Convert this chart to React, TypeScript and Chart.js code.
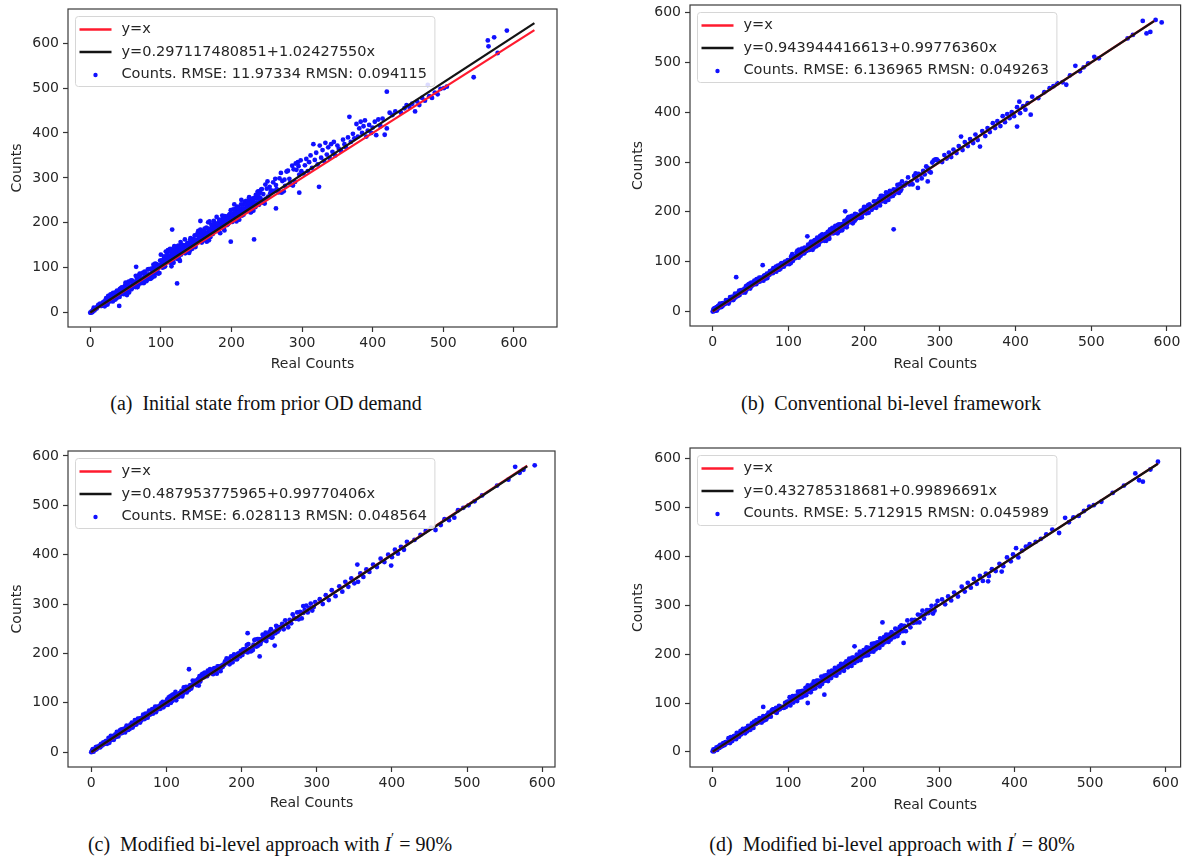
import React, { useEffect, useRef } from 'react';
import { Chart, registerables } from 'chart.js';

Chart.register(...registerables);

// ---------------- DATA ----------------
const TICKS = [0, 100, 200, 300, 400, 500, 600];

const LEGEND_A = ['y=x', 'y=0.297117480851+1.02427550x', 'Counts. RMSE: 11.97334 RMSN: 0.094115'];
const LEGEND_B = ['y=x', 'y=0.943944416613+0.99776360x', 'Counts. RMSE: 6.136965 RMSN: 0.049263'];
const LEGEND_C = ['y=x', 'y=0.487953775965+0.99770406x', 'Counts. RMSE: 6.028113 RMSN: 0.048564'];
const LEGEND_D = ['y=x', 'y=0.432785318681+0.99896691x', 'Counts. RMSE: 5.712915 RMSN: 0.045989'];

const FIT_A = [0.297117480851, 1.0242755];
const FIT_B = [0.943944416613, 0.9977636];
const FIT_C = [0.487953775965, 0.99770406];
const FIT_D = [0.432785318681, 0.99896691];

const LINE_END = [629, 583, 580, 590];

const CAPTIONS = [
  '(a)  Initial state from prior OD demand',
  '(b)  Conventional bi-level framework',
  '(c)  Modified bi-level approach with ',
  '(d)  Modified bi-level approach with ',
];
const CAPTION_PCT = ['', '', '90%', '80%'];

const POINTS_A = [
  [0,0],[1,0],[2,3],[3,1],[4,6],[5,11],[6,5],[7,10],[8,10],[9,9],[10,12],[11,16],[12,18],[13,17],[14,20],[15,15],[16,15],[17,17],[18,23],[19,20],
  [20,25],[21,18],[22,27],[23,24],[24,23],[25,24],[26,35],[27,26],[28,25],[29,36],[30,41],[31,34],[32,25],[33,30],[34,43],[35,44],[36,37],[37,32],[38,49],[39,46],
  [40,35],[41,46],[42,53],[43,42],[44,55],[45,56],[46,45],[47,54],[48,51],[49,44],
  [20.5,14],[21.5,25],[22.5,32],[23.5,21],[24.5,18],[25.5,37],[26.5,34],[27.5,29],[28.5,40],[29.5,31],[30.5,32],[31.5,35],[32.5,44],[33.5,31],[34.5,34],[35.5,29],
  [36.5,44],[37.5,47],[38.5,34],[39.5,45],[40.5,42],[41.5,35],[42.5,48],[43.5,41],[44.5,54],[45.5,51],[46.5,44],[47.5,41],[48.5,58],[49.5,61],
  [50,67],[51,65],[52,60],[53,49],[54,68],[55,45],[56,55],[57,59],[58,72],[59,55],[60,65],[61,60],[62,64],[63,59],[64,57],[65,58],[66,77],[67,57],[68,76],[69,80],
  [70,87],[71,85],[72,68],[73,66],[74,76],[75,89],[76,66],[77,91],[78,86],[79,84],[80,73],[81,80],[82,78],[83,97],[84,80],[85,84],[86,76],[87,95],[88,96],[89,91],
  [90,101],[91,81],[92,109],[93,92],[94,108],[95,97],[96,98],[97,105],[98,88],[99,116],
  [50.5,56],[51.5,57],[52.5,43],[53.5,59],[54.5,69],[55.5,52],[56.5,53],[57.5,57],[58.5,52],[59.5,71],[60.5,57],[61.5,67],[62.5,62],[63.5,69],[64.5,82],[65.5,68],
  [66.5,57],[67.5,82],[68.5,62],[69.5,66],[70.5,85],[71.5,74],[72.5,87],[73.5,67],[74.5,68],[75.5,69],[76.5,88],[77.5,80],[78.5,84],[79.5,70],[80.5,77],[81.5,96],
  [82.5,85],[83.5,77],[84.5,75],[85.5,82],[86.5,98],[87.5,78],[88.5,82],[89.5,107],[90.5,90],[91.5,106],[92.5,98],[93.5,90],[94.5,88],[95.5,89],[96.5,87],[97.5,103],
  [98.5,104],[99.5,105],[65,102],[52,39],[41,15],
  [100,129],[101,116],[102,108],[103,109],[104,119],[105,102],[106,103],[107,136],[108,114],[109,133],[110,139],[111,122],[112,118],[113,142],[114,116],[115,103],
  [116,118],[117,141],[118,111],[119,148],[120,135],[121,127],[122,128],[123,120],[124,148],[125,149],[126,119],[127,115],[128,157],[129,149],[130,141],[131,146],
  [132,147],[133,144],[134,163],[135,137],[136,138],[137,143],[138,144],[139,154],[140,133],[141,138],[142,166],[143,149],[144,164],[145,156],[146,161],[147,153],
  [148,172],[149,146],
  [150,157],[151,158],[152,177],[153,182],[154,174],[155,180],[156,185],[157,164],[158,156],[159,179],[160,176],[161,163],[162,187],[163,161],[164,166],[165,158],
  [166,164],[167,201],[168,161],[169,203],[170,168],[171,182],[172,188],[173,193],[174,185],[175,204],[176,192],[177,197],[178,198],[179,213],[180,182],[181,188],
  [182,193],[183,203],[184,177],[185,192],[186,197],[187,216],[188,208],[189,187],[190,183],[191,202],[192,208],[193,204],[194,201],[195,197],[196,216],[197,217],
  [198,209],[199,228],
  [200,205],[201,202],[202,212],[203,213],[204,241],[205,215],[206,229],[207,203],[208,236],[209,214],[210,233],[211,207],[212,217],[213,227],[214,251],[215,216],
  [216,230],[217,218],[218,223],[219,247],[220,230],[221,249],[222,227],[223,237],[224,243],[225,257],[226,254],[227,223],[228,224],[229,252],[230,253],[231,227],
  [232,255],[233,243],[234,235],[235,254],[236,255],[237,269],[238,270],[239,240],[240,268],[241,255],[242,274],[243,275],[244,245],[245,264],[246,251],[247,243],
  [248,285],[249,254],
  [100.5,116],[101.5,104],[102.5,100],[103.5,114],[104.5,125],[105.5,106],[106.5,119],[107.5,113],[108.5,126],[109.5,117],[110.5,113],[111.5,127],[112.5,123],
  [113.5,111],[114.5,135],[115.5,121],[116.5,129],[117.5,118],[118.5,136],[119.5,127],[120.5,131],[121.5,124],[122.5,143],[123.5,139],[124.5,122],[125.5,131],
  [126.5,139],[127.5,145],[128.5,129],[129.5,137],[130.5,151],[131.5,142],[132.5,135],[133.5,146],[134.5,132],[135.5,151],[136.5,142],[137.5,155],[138.5,146],
  [139.5,140],[140.5,153],[141.5,162],[142.5,145],[143.5,154],[144.5,142],[145.5,163],[146.5,152],[147.5,163],[148.5,149],[149.5,157],
  [150.5,162],[151.5,173],[152.5,157],[153.5,170],[154.5,164],[155.5,180],[156.5,158],[157.5,172],[158.5,178],[159.5,166],[160.5,182],[161.5,171],[162.5,179],
  [163.5,168],[164.5,189],[165.5,177],[166.5,168],[167.5,187],[168.5,183],[169.5,176],[170.5,180],[171.5,196],[172.5,189],[173.5,175],[174.5,196],[175.5,187],
  [176.5,181],[177.5,192],[178.5,198],[179.5,186],[180.5,197],[181.5,183],[182.5,207],[183.5,193],[184.5,204],[185.5,190],[186.5,201],[187.5,209],[188.5,195],
  [189.5,201],[190.5,215],[191.5,208],[192.5,202],[193.5,195],[194.5,214],[195.5,210],[196.5,201],[197.5,219],[198.5,205],[199.5,211],
  [200.5,210],[201.5,219],[202.5,230],[203.5,208],[204.5,224],[205.5,218],[206.5,231],[207.5,215],[208.5,231],[209.5,224],[210.5,223],[211.5,231],[212.5,217],
  [213.5,241],[214.5,232],[215.5,225],[216.5,241],[217.5,232],[218.5,226],[219.5,242],[220.5,240],[221.5,229],[222.5,235],[223.5,248],[224.5,229],[225.5,243],
  [226.5,254],[227.5,237],[228.5,243],[229.5,252],[230.5,235],[231.5,246],[232.5,255],[233.5,243],[234.5,262],[235.5,255],[236.5,244],[237.5,255],[238.5,263],
  [239.5,252],[116,185],[123,65],[156,204],[199,158],[232,163],
  [250,276],[252,258],[254,280],[256,272],[258,269],[260,271],[262,298],[264,275],[266,272],[268,299],[270,311],[272,293],[274,270],[276,282],[278,314],[280,316],
  [282,298],[284,285],[286,327],[288,319],[290,291],[292,318],[294,335],[296,307],[298,339],[251,292],[255,266],[259,290],[263,284],[267,268],[271,267],[275,296],
  [279,315],[283,289],[287,283],[291,332],[295,326],[299,315],[263,232],[296,267],
  [302,310],[304,328],[306,342],[308,315],[310,335],[312,350],[314,322],[316,375],[318,340],[320,356],[322,330],[324,280],[325,372],[327,345],[329,362],[331,338],
  [333,378],[335,352],[337,368],[339,344],[341,375],[343,358],[345,380],[347,350],[350,372],[352,365],[355,360],[358,385],[360,375],[362,368],[365,390],[367,436],
  [369,380],[372,398],[374,388],[377,420],[379,392],[381,410],[383,425],[385,400],[387,415],[389,428],[391,392],[393,405],[395,418],[398,400],[400,412],[403,425],
  [405,395],[408,430],[411,415],[414,432],[417,396],[420,492],[420,410],[424,445],[428,440],[432,448],
  [440,445],[445,455],[448,462],[452,458],[456,465],[460,448],[463,470],[466,462],[470,478],[474,472],[478,507],[480,482],[484,478],[488,490],[492,486],[496,498],
  [501,500],[505,503],[543,524],[563,606],[564,593],[572,613],[577,578],[590,628],
];

const POINTS_B = [
  [0,0],[1,4],[2,1],[3,7],[4,3],[5,9],[6,5],[7,11],[8,7],[9,13],[10,11],[11,13],[12,16],[13,11],[14,15],[15,17],[16,15],[17,17],[18,20],[19,19],
  [20,23],[21,16],[22,20],[23,29],[24,28],[25,25],[26,30],[27,23],[28,27],[29,31],[30,28],[31,34],[32,35],[33,31],[34,34],[35,42],[36,40],[37,41],[38,40],[39,43],
  [40,38],[41,41],[42,46],[43,38],[44,51],[45,44],[46,49],[47,54],[48,55],[49,56],[50,52],[51,58],[52,54],[53,57],[54,54],[55,62],[56,59],[57,60],[58,65],[59,62],
  [60,64],[61,64],[62,60],[63,67],[64,68],[65,63],[66,66],[67,62],[68,72],[69,72],[70,73],[71,70],[72,67],[73,72],[74,76],[75,74],[76,78],[77,77],[78,82],[79,81],
  [80,87],[81,81],[82,84],[83,87],[84,80],[85,84],[86,92],[87,85],[88,84],[89,93],[90,96],[91,93],[92,90],[93,95],[94,90],[95,98],[96,99],[97,97],[98,96],[99,103],
  [100,98],[101,95],[102,102],[103,97],[104,106],[105,115],[106,102],[107,111],[108,110],[109,107],[110,112],[111,119],[112,122],[113,119],[114,124],[115,113],
  [116,112],[117,115],[118,126],[119,119],[120,124],[121,117],[122,126],[123,123],[124,122],[125,123],[126,134],[127,125],[128,124],[129,135],[130,140],[131,133],
  [132,124],[133,129],[134,142],[135,143],[136,136],[137,131],[138,148],[139,145],[140,134],[141,145],[142,152],[143,141],[144,154],[145,155],[146,144],[147,153],
  [148,150],[149,143],[150,142],[151,153],[152,160],[153,149],[154,146],[155,165],[156,162],[157,157],[158,168],[159,159],[160,160],[161,163],[162,172],[163,159],
  [164,162],[165,157],[166,172],[167,175],[168,162],[169,173],[170,170],[171,163],[172,176],[173,169],[174,182],[175,179],[176,172],[177,169],[178,186],[179,189],
  [180,190],[181,189],[182,186],[183,179],[184,192],[185,177],[186,184],[187,187],[188,196],[189,185],[190,192],[191,189],[192,192],[193,189],[194,188],[195,189],
  [196,202],[197,189],[198,202],[199,205],[200,210],[201,209],[202,198],[203,197],[204,204],[205,213],[206,198],[207,215],[208,212],[209,211],[210,204],[211,209],
  [212,208],[213,221],[214,210],[215,213],[216,208],[217,221],[218,222],[219,219],[220,226],[221,213],[222,232],[223,221],[224,232],[225,225],[226,226],[227,231],
  [228,220],[229,239],[230,232],[231,233],[232,224],[233,235],[234,242],[235,231],[236,232],[237,235],[238,232],[239,245],[240,236],[241,243],[242,240],[243,245],
  [244,254],[245,245],[246,238],[247,255],[248,242],[249,245],
  [1.5,6],[3.5,2],[5.5,2],[7.5,10],[9.5,16],[11.5,9],[13.5,17],[15.5,15],[17.5,23],[19.5,20],[21.5,20],[23.5,28],[25.5,28],[27.5,24],[29.5,36],[31.5,31],
  [33.5,37],[35.5,33],[37.5,43],[39.5,40],[41.5,44],[43.5,42],[45.5,52],[47.5,52],[49.5,46],[51.5,51],[53.5,57],[55.5,61],[57.5,55],[59.5,60],[61.5,68],[63.5,66],
  [65.5,64],[67.5,71],[69.5,66],[71.5,76],[73.5,73],[75.5,81],[77.5,78],[79.5,77],[81.5,85],[83.5,90],[85.5,84],[87.5,90],[89.5,86],[91.5,97],[93.5,93],[95.5,100],
  [97.5,95],[99.5,100],[101.5,102],[103.5,110],[105.5,102],[107.5,111],[109.5,109],[111.5,120],[113.5,108],[115.5,118],[117.5,123],[119.5,117],[121.5,128],
  [123.5,123],[125.5,129],[127.5,124],[129.5,138],[131.5,132],[133.5,128],[135.5,141],[137.5,140],[139.5,137],[141.5,141],[143.5,152],[145.5,149],[147.5,142],
  [149.5,156],[151.5,152],[153.5,150],[155.5,158],[157.5,163],[159.5,157],[161.5,165],[163.5,158],[165.5,174],[167.5,167],[169.5,175],[171.5,168],[173.5,176],
  [175.5,182],[177.5,175],[179.5,180],[181.5,190],[183.5,187],[185.5,185],[187.5,182],[189.5,195],[191.5,194],[193.5,190],[195.5,202],[197.5,195],[199.5,200],
  [250,261],[252,252],[254,254],[256,258],[258,269],[260,255],[262,260],[264,255],[266,272],[268,277],[270,263],[272,276],[274,274],[276,267],[278,282],[280,275],
  [282,291],[284,288],[286,281],[288,279],[290,299],[292,303],[294,305],[296,305],[298,302],
  [31,69],[66,93],[125,151],[175,201],[239,165],[271,248],[284,261],
  [303,300],[306,314],[309,307],[312,319],[315,310],[318,325],[322,318],[325,332],[328,351],[330,324],[333,340],[337,332],[340,346],[344,338],[347,355],[350,344],
  [353,331],[356,362],[360,352],[363,368],[366,360],[370,378],[373,368],[376,382],[380,372],[383,392],[386,380],[389,396],[392,388],[395,400],[398,392],[402,371],
  [402,410],[405,421],[406,398],[410,412],[413,405],[416,418],[420,395],[422,431],
  [430,428],[438,440],[445,448],[450,452],[455,458],[462,460],[467,455],[472,474],[479,493],[485,482],[490,490],[496,498],[504,511],[510,508],[548,548],[555,555],
  [568,583],[573,558],[578,561],[593,580],[585,585],
];

const POINTS_C = [
  [0,0],[1,3],[2,6],[3,1],[4,6],[5,5],[6,10],[7,6],[8,11],[9,10],[10,10],[11,13],[12,10],[13,17],[14,16],[15,14],[16,20],[17,18],[18,17],[19,22],
  [20,23],[21,17],[22,21],[23,29],[24,19],[25,27],[26,33],[27,25],[28,28],[29,33],[30,25],[31,31],[32,36],[33,31],[34,41],[35,38],[36,32],[37,39],[38,44],[39,38],
  [40,46],[41,39],[42,44],[43,47],[44,43],[45,40],[46,49],[47,54],[48,48],[49,45],[50,50],[51,47],[52,56],[53,52],[54,60],[55,50],[56,58],[57,55],[58,65],[59,62],
  [60,56],[61,61],[62,68],[63,62],[64,68],[65,60],[66,69],[67,65],[68,70],[69,76],[70,70],[71,67],[72,78],[73,76],[74,73],[75,70],[76,80],[77,84],[78,76],[79,81],
  [80,80],[81,87],[82,78],[83,86],[84,83],[85,92],[86,81],[87,89],[88,92],[89,87],[90,89],[91,94],[92,88],[93,99],[94,94],[95,102],[96,91],[97,101],[98,96],[99,101],
  [100,96],[101,107],[102,96],[103,111],[104,100],[105,113],[106,100],[107,115],[108,104],[109,117],[110,110],[111,113],[112,122],[113,105],[114,114],[115,117],
  [116,112],[117,115],[118,120],[119,117],[120,124],[121,113],[122,118],[123,131],[124,130],[125,125],[126,132],[127,121],[128,126],[129,131],[130,126],[131,135],
  [132,136],[133,129],[134,134],[135,145],[136,142],[137,143],[138,140],[139,145],[140,136],[141,141],[142,148],[143,135],[144,154],[145,143],[146,150],[147,157],
  [148,158],[149,159],[150,152],[151,161],[152,154],[153,159],[154,154],[155,165],[156,160],[157,161],[158,168],[159,163],[160,166],[161,165],[162,158],[163,169],
  [164,170],[165,161],[166,166],[167,159],[168,174],[169,173],[170,174],[171,169],[172,164],[173,171],[174,176],[175,173],[176,178],[177,177],[178,184],[179,181],
  [180,190],[181,181],[182,184],[183,189],[184,178],[185,183],[186,194],[187,183],[188,182],[189,195],[190,198],[191,193],[192,188],[193,195],[194,188],[195,199],
  [196,200],[197,197],[198,194],[199,205],[200,200],[201,197],[202,208],[203,203],[204,208],[205,209],[206,204],[207,217],[208,202],[209,219],[210,208],[211,207],
  [212,204],[213,205],[214,212],[215,207],[216,218],[217,227],[218,228],[219,215],[220,214],[221,229],[222,216],[223,229],[224,224],[225,219],[226,224],[227,229],
  [228,238],[229,233],[230,234],[231,227],[232,242],[233,225],[234,234],[235,233],[236,238],[237,243],[238,234],[239,249],[240,232],[241,233],[242,240],[243,241],
  [244,244],[245,241],[246,256],[247,249],[248,244],[249,253],
  [250,248],[252,254],[254,260],[256,249],[258,267],[260,260],[262,253],[264,268],[266,261],[268,279],[270,272],[272,270],[274,283],[276,269],[278,284],[280,271],
  [282,282],[284,288],[286,297],[288,283],[290,292],[292,301],[294,287],[296,294],[298,304],
  [130,168],[208,241],[224,194],[244,216],[282,296],
  [304,310],[308,300],[312,318],[316,308],[320,328],[325,316],[330,336],[334,325],[338,345],[342,335],[346,352],[350,342],[354,380],[355,345],[358,362],[362,355],
  [366,370],[370,365],[375,380],[380,375],[385,392],[390,385],[395,400],[399,378],[400,395],[404,410],[408,402],[412,416],[416,410],[420,426],
  [430,430],[438,440],[445,448],[452,455],[458,450],[465,460],[470,472],[476,470],[483,475],[488,490],[495,495],[502,500],[510,508],[520,520],[540,540],[555,552],
  [564,578],[570,566],[575,572],[590,581],
];

const POINTS_D = [
  [0,1],[1,5],[2,1],[3,5],[4,4],[5,9],[6,4],[7,9],[8,11],[9,8],[10,14],[11,11],[12,14],[13,12],[14,18],[15,16],[16,14],[17,20],[18,20],[19,18],
  [20,19],[21,28],[22,25],[23,18],[24,30],[25,25],[26,22],[27,29],[28,32],[29,27],[30,33],[31,26],[32,39],[33,32],[34,38],[35,31],[36,38],[37,43],[38,36],[39,39],
  [40,47],[41,44],[42,41],[43,38],[44,48],[45,47],[46,42],[47,53],[48,46],[49,49],[50,45],[51,53],[52,58],[53,51],[54,49],[55,62],[56,60],[57,57],[58,65],[59,59],
  [60,60],[61,63],[62,69],[63,61],[64,63],[65,60],[66,70],[67,73],[68,64],[69,72],[70,70],[71,66],[72,75],[73,71],[74,80],[75,78],[76,74],[77,72],[78,84],[79,86],
  [80,87],[81,87],[82,85],[83,81],[84,90],[85,80],[86,85],[87,87],[88,94],[89,87],[90,92],[91,90],[92,92],[93,91],[94,90],[95,91],[96,100],[97,92],[98,101],[99,103],
  [100,96],[101,103],[102,112],[103,95],[104,108],[105,103],[106,114],[107,101],[108,114],[109,109],[110,108],[111,115],[112,104],[113,123],[114,116],[115,111],
  [116,124],[117,117],[118,112],[119,125],[120,124],[121,115],[122,120],[123,131],[124,116],[125,127],[126,136],[127,123],[128,128],[129,135],[130,122],[131,131],
  [132,138],[133,129],[134,144],[135,139],[136,130],[137,139],[138,146],[139,137],[140,146],[141,137],[142,134],[143,145],[144,154],[145,139],[146,150],[147,145],
  [148,156],[149,149],[150,146],[151,157],[152,154],[153,145],[154,164],[155,153],[156,160],[157,151],[158,166],[159,159],[160,162],[161,157],[162,172],[163,169],
  [164,156],[165,163],[166,170],[167,175],[168,162],[169,169],[170,180],[171,173],[172,168],[173,177],[174,166],[175,181],[176,174],[177,185],[178,178],[179,173],
  [180,184],[181,191],[182,178],[183,185],[184,176],[185,193],[186,184],[187,193],[188,182],[189,189],[190,190],[191,199],[192,186],[193,197],[194,192],[195,205],
  [196,188],[197,199],[198,204],[199,195],[200,208],[201,199],[202,206],[203,197],[204,214],[205,205],[206,198],[207,213],[208,210],[209,205],[210,208],[211,221],
  [212,216],[213,205],[214,222],[215,215],[216,210],[217,219],[218,224],[219,215],[220,224],[221,213],[222,232],[223,221],[224,230],[225,219],[226,228],[227,235],
  [228,224],[229,229],[230,240],[231,235],[232,230],[233,225],[234,240],[235,237],[236,230],[237,245],[238,234],[239,239],[240,242],[241,235],[242,252],[243,241],
  [244,250],[245,237],[246,250],[247,243],[248,256],[249,249],
  [250,259],[252,247],[254,258],[256,247],[258,269],[260,260],[262,255],[264,270],[266,264],[268,270],[270,265],[272,281],[274,265],[276,280],[278,289],[280,273],
  [282,282],[284,290],[286,284],[288,290],[290,299],[292,283],[294,289],[296,300],[298,309],
  [67,92],[126,100],[148,117],[188,216],[225,265],[253,223],
  [304,312],[308,302],[312,318],[316,310],[320,326],[325,318],[330,338],[334,328],[338,346],[342,336],[346,354],[350,344],[354,360],[358,350],[365,349],[362,365],
  [366,360],[370,374],[375,370],[380,385],[383,369],[385,380],[390,398],[395,390],[398,404],[402,417],[405,398],[410,412],[415,420],[420,425],
  [428,430],[435,436],[442,445],[450,455],[459,448],[467,479],[472,470],[478,480],[485,483],[492,493],[499,502],[505,505],[515,512],[530,530],[545,545],[560,570],
  [565,556],[570,553],[580,578],[590,594],
];

// ---------------- LAYOUT ----------------
type Panel = {
  left: number; top: number; width: number; height: number;
  area: { l: number; t: number; r: number; b: number };
  x: [number, number]; y: [number, number];
  yTitleX: number; xTitleY: number;
  points: number[][]; fit: number[]; lineEnd: number; legend: string[];
};

const PANELS: Panel[] = [
  { left: 0, top: 0, width: 575, height: 380, area: { l: 68, t: 9, r: 557, b: 327 },
    x: [-31.5, 661], y: [-32, 676], yTitleX: 17, xTitleY: 364,
    points: POINTS_A, fit: FIT_A, lineEnd: LINE_END[0], legend: LEGEND_A },
  { left: 600, top: 0, width: 583, height: 380, area: { l: 90, t: 5, r: 582, b: 326 },
    x: [-30, 618], y: [-29, 615], yTitleX: 38, xTitleY: 364,
    points: POINTS_B, fit: FIT_B, lineEnd: LINE_END[1], legend: LEGEND_B },
  { left: 0, top: 440, width: 575, height: 380, area: { l: 68, t: 11, r: 555, b: 327 },
    x: [-31, 617], y: [-30, 610], yTitleX: 17, xTitleY: 363,
    points: POINTS_C, fit: FIT_C, lineEnd: LINE_END[2], legend: LEGEND_C },
  { left: 600, top: 440, width: 583, height: 380, area: { l: 90, t: 8, r: 581, b: 327 },
    x: [-30, 620], y: [-31, 622], yTitleX: 38, xTitleY: 365,
    points: POINTS_D, fit: FIT_D, lineEnd: LINE_END[3], legend: LEGEND_D },
];

const CAPTION_POS = [
  { cx: 266, cy: 403 },
  { cx: 891, cy: 403 },
  { cx: 270, cy: 844 },
  { cx: 892, cy: 844 },
];

const FONT = '"DejaVu Sans", sans-serif';
const RED = '#ff1a2e';
const BLACK = '#141414';
const BLUE = '#1010ff';

const mplPlugin = {
  id: 'mplFrame',
  afterDatasetsDraw(chart: any, _args: any, opts: any) {
    const { ctx, chartArea: a } = chart;
    ctx.save();
    ctx.strokeStyle = '#3a3a3a';
    ctx.lineWidth = 1.2;
    ctx.strokeRect(a.left, a.top, a.right - a.left, a.bottom - a.top);

    const labels: string[] = opts.labels || [];
    ctx.font = '14.5px ' + FONT;
    const tw = Math.max(...labels.map((l) => ctx.measureText(l).width));
    const bx = a.left + 7.5;
    const by = a.top + 7.5;
    const bw = 46 + tw + 8;
    const bh = 70;
    const r = 3;
    ctx.beginPath();
    ctx.moveTo(bx + r, by);
    ctx.lineTo(bx + bw - r, by);
    ctx.quadraticCurveTo(bx + bw, by, bx + bw, by + r);
    ctx.lineTo(bx + bw, by + bh - r);
    ctx.quadraticCurveTo(bx + bw, by + bh, bx + bw - r, by + bh);
    ctx.lineTo(bx + r, by + bh);
    ctx.quadraticCurveTo(bx, by + bh, bx, by + bh - r);
    ctx.lineTo(bx, by + r);
    ctx.quadraticCurveTo(bx, by, bx + r, by);
    ctx.closePath();
    ctx.fillStyle = 'rgba(255,255,255,0.85)';
    ctx.fill();
    ctx.strokeStyle = '#d6d6d6';
    ctx.lineWidth = 1;
    ctx.stroke();

    const rows = [by + 13, by + 35.5, by + 57.5];
    ctx.lineWidth = 2.6;
    ctx.strokeStyle = RED;
    ctx.beginPath(); ctx.moveTo(bx + 4, rows[0]); ctx.lineTo(bx + 36, rows[0]); ctx.stroke();
    ctx.strokeStyle = BLACK;
    ctx.beginPath(); ctx.moveTo(bx + 4, rows[1]); ctx.lineTo(bx + 36, rows[1]); ctx.stroke();
    ctx.fillStyle = BLUE;
    ctx.beginPath(); ctx.arc(bx + 20, rows[2] + 1, 2.2, 0, Math.PI * 2); ctx.fill();

    ctx.fillStyle = '#262626';
    ctx.textBaseline = 'middle';
    ctx.textAlign = 'left';
    labels.forEach((l, i) => ctx.fillText(l, bx + 46, rows[i]));
    ctx.restore();
  },
};

function PanelChart({ p }: { p: Panel }) {
  const ref = useRef<HTMLCanvasElement | null>(null);
  useEffect(() => {
    if (!ref.current) return;
    const a = p.area;
    const tickFont = { family: FONT, size: 14 };
    const lh = 14 * 1.2;
    const setTicks = (scale: any) => {
      scale.ticks = TICKS.map((v) => ({ value: v }));
    };
    const chart = new Chart(ref.current, {
      type: 'scatter',
      data: {
        datasets: [
          {
            label: p.legend[1],
            data: [
              { x: 0, y: p.fit[0] },
              { x: p.lineEnd, y: p.fit[0] + p.fit[1] * p.lineEnd },
            ],
            showLine: true,
            borderColor: BLACK,
            borderWidth: 2.3,
            pointRadius: 0,
            order: 0,
          },
          {
            label: p.legend[0],
            data: [
              { x: 0, y: 0 },
              { x: p.lineEnd, y: p.lineEnd },
            ],
            showLine: true,
            borderColor: RED,
            borderWidth: 2.3,
            pointRadius: 0,
            order: 1,
          },
          {
            label: p.legend[2],
            data: p.points.map(([x, y]) => ({ x, y })),
            backgroundColor: BLUE,
            borderWidth: 0,
            pointRadius: 2.4,
            pointHoverRadius: 2.4,
            order: 2,
          },
        ],
      } as any,
      options: {
        responsive: false,
        animation: false,
        devicePixelRatio: 1,
        events: [],
        layout: { padding: { left: 0, top: a.t, right: p.width - a.r, bottom: 0 } },
        plugins: {
          legend: { display: false },
          tooltip: { enabled: false },
          mplFrame: { labels: p.legend },
        } as any,
        scales: {
          x: {
            type: 'linear',
            min: p.x[0],
            max: p.x[1],
            afterBuildTicks: setTicks,
            afterFit: (s: any) => {
              s.height = p.height - a.b;
              s.paddingLeft = 0; s.paddingRight = 0; s.paddingTop = 0; s.paddingBottom = 0;
            },
            grid: { display: true, drawOnChartArea: false, drawTicks: true, tickLength: 5, tickColor: '#333', tickWidth: 1.2 },
            border: { display: false },
            ticks: { font: tickFont, color: '#262626', padding: 3, maxRotation: 0, autoSkip: false },
            title: {
              display: true, text: 'Real Counts', color: '#262626', font: tickFont,
              padding: { top: 0, bottom: p.height - p.xTitleY - lh / 2 },
            },
          },
          y: {
            type: 'linear',
            min: p.y[0],
            max: p.y[1],
            afterBuildTicks: setTicks,
            afterFit: (s: any) => {
              s.width = a.l;
              s.paddingLeft = 0; s.paddingRight = 0; s.paddingTop = 0; s.paddingBottom = 0;
            },
            grid: { display: true, drawOnChartArea: false, drawTicks: true, tickLength: 5, tickColor: '#333', tickWidth: 1.2 },
            border: { display: false },
            ticks: { font: tickFont, color: '#262626', padding: 4, autoSkip: false },
            title: {
              display: true, text: 'Counts', color: '#262626', font: tickFont,
              padding: { top: p.yTitleX - lh / 2, bottom: 0 },
            },
          },
        },
      } as any,
      plugins: [mplPlugin],
    });
    return () => chart.destroy();
  }, [p]);
  return (
    <canvas
      ref={ref}
      width={p.width}
      height={p.height}
      style={{ position: 'absolute', left: p.left, top: p.top, width: p.width, height: p.height }}
    />
  );
}

export default function App() {
  return (
    <div style={{ position: 'absolute', left: 0, top: 0, width: 1183, height: 861, background: '#fff', overflow: 'hidden' }}>
      {PANELS.map((p, i) => (
        <PanelChart key={i} p={p} />
      ))}
      {CAPTIONS.map((c, i) => (
        <div
          key={'c' + i}
          style={{
            position: 'absolute',
            left: CAPTION_POS[i].cx - 300,
            top: CAPTION_POS[i].cy - 13,
            width: 600,
            height: 26,
            lineHeight: '26px',
            textAlign: 'center',
            fontFamily: '"Liberation Serif", "Times New Roman", serif',
            fontSize: 20,
            color: '#111',
            whiteSpace: 'pre',
          }}
        >
          {c}
          {CAPTION_PCT[i] ? (
            <>
              <i>I</i>
              <span style={{ position: 'relative', top: '-0.55em', fontSize: '0.7em' }}>{'′'}</span>
              {' = ' + CAPTION_PCT[i]}
            </>
          ) : null}
        </div>
      ))}
    </div>
  );
}
